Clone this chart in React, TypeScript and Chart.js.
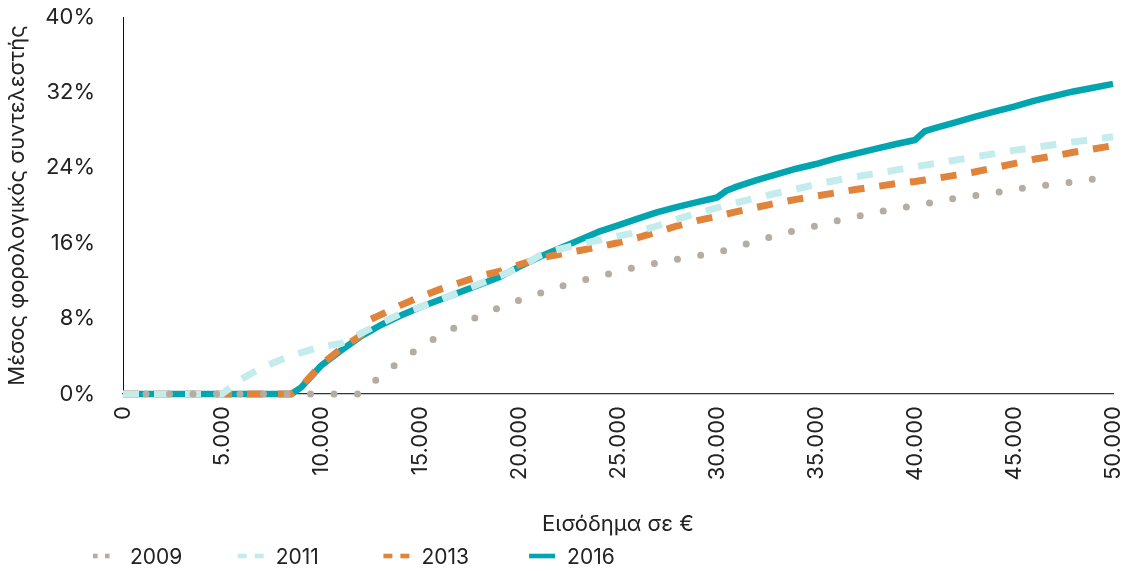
import { useEffect, useRef } from "react";
import { Chart, registerables } from "chart.js";

Chart.register(...registerables);

// Income levels (€) at which the average tax rate is read
const incomes = [
  0, 1000, 2000, 3000, 4000, 5000, 6000, 7000, 8000, 8500, 9000, 10000, 11000, 12000, 12500,
  13000, 14000, 15000, 16000, 17000, 18000, 19000, 20000, 21000, 22000, 23000, 24000, 25000,
  26000, 27000, 28000, 29000, 30000, 30500, 31000, 32000, 33000, 34000, 35000, 36000, 37000,
  38000, 39000, 40000, 40500, 41000, 42000, 43000, 44000, 45000, 46000, 47000, 48000, 49000, 50000,
];

// Average tax rate (%) per year
const rate2009 = [
  0, 0, 0, 0, 0, 0, 0, 0, 0, 0, 0, 0, 0, 0, 0.95,
  1.9, 3.5, 4.95, 6.2, 7.3, 8.3, 9.15, 9.95, 10.65, 11.35, 11.95, 12.45, 13.0,
  13.5, 13.9, 14.3, 14.65, 15.0, 15.3, 15.6, 16.25, 16.85, 17.35, 17.85, 18.35, 18.8,
  19.25, 19.65, 20.0, 20.18, 20.35, 20.75, 21.05, 21.35, 21.7, 22.0, 22.25, 22.5, 22.8, 23.05,
];
const rate2011 = [
  0, 0, 0, 0, 0, 0, 1.6, 2.8, 3.65, 4.05, 4.4, 5.0, 5.35, 6.4, 6.95,
  7.5, 8.5, 9.2, 10.0, 10.85, 11.7, 12.5, 13.35, 14.65, 15.35, 15.85, 16.3, 16.75,
  17.2, 17.85, 18.55, 19.2, 19.75, 20.03, 20.3, 20.8, 21.3, 21.75, 22.25, 22.65, 23.05,
  23.4, 23.75, 24.1, 24.28, 24.45, 24.8, 25.15, 25.5, 25.85, 26.15, 26.45, 26.75, 27.0, 27.3,
];
const rate2013 = [
  0, 0, 0, 0, 0, 0, 0, 0, 0, 0, 0.8, 3.1, 4.8, 6.2, 7.9,
  8.4, 9.4, 10.3, 11.1, 11.8, 12.5, 13.0, 13.7, 14.4, 14.8, 15.2, 15.6, 16.05,
  16.6, 17.2, 17.85, 18.4, 18.85, 19.1, 19.35, 19.8, 20.25, 20.65, 21.0, 21.35, 21.7,
  22.0, 22.3, 22.55, 22.7, 22.85, 23.2, 23.55, 24.0, 24.45, 24.9, 25.25, 25.65, 26.0, 26.35,
];
const rate2016 = [
  0, 0, 0, 0, 0, 0, 0, 0, 0, 0, 0.7, 3.0, 4.6, 6.1, 6.7,
  7.3, 8.3, 9.2, 10.0, 10.8, 11.6, 12.4, 13.5, 14.5, 15.4, 16.3, 17.2, 17.9,
  18.6, 19.3, 19.85, 20.35, 20.85, 21.6, 22.0, 22.7, 23.3, 23.9, 24.4, 25.0, 25.5,
  26.0, 26.5, 26.95, 27.9, 28.2, 28.8, 29.4, 29.95, 30.5, 31.1, 31.6, 32.1, 32.5, 32.9,
];

const seriesLabels = ["2009", "2011", "2013", "2016"];
const seriesValues = [rate2009, rate2011, rate2013, rate2016];
const yTickValues = [0, 8, 16, 24, 32, 40];

const yTitle = "Μέσος φορολογικός συντελεστής";
const xTitle = "Εισόδημα σε €";

const COLORS = ["#B5ADA2", "#C4ECEC", "#E0843C", "#00A5AF"];
const FONT = "Inter, 'Noto Sans', sans-serif";
const TEXT = "#222222";

const fmtThousands = (v: number) => String(v).replace(/\B(?=(\d{3})+(?!\d))/g, ".");

const legendPlugin = {
  id: "customLegend",
  afterDraw(chart: any) {
    const ctx = chart.ctx as CanvasRenderingContext2D;
    const startX = 92;
    const step = 145.7;
    const cy = 556;
    const h = 4.6;
    ctx.save();
    seriesLabels.forEach((label, i) => {
      const x0 = startX + i * step;
      ctx.fillStyle = COLORS[i];
      if (i === 0) {
        ctx.fillRect(x0 + 1, cy - h / 2, 4.6, h);
        ctx.fillRect(x0 + 13, cy - h / 2, 4.6, h);
      } else if (i === 1 || i === 2) {
        ctx.fillRect(x0, cy - h / 2, 9, h);
        ctx.fillRect(x0 + 17, cy - h / 2, 9, h);
      } else {
        ctx.fillRect(x0, cy - h / 2, 26, h);
      }
      ctx.fillStyle = TEXT;
      ctx.font = `21px ${FONT}`;
      ctx.textBaseline = "alphabetic";
      ctx.textAlign = "left";
      ctx.fillText(label, x0 + 38, 564);
    });
    ctx.restore();
  },
};

export default function App() {
  const canvasRef = useRef<HTMLCanvasElement>(null);

  useEffect(() => {
    if (!canvasRef.current) return;
    const datasets = seriesValues.map((vals, i) => ({
      label: seriesLabels[i],
      data: incomes.map((x, j) => ({ x, y: vals[j] })),
      borderColor: COLORS[i],
      backgroundColor: COLORS[i],
      borderWidth: i === 3 ? 6.5 : 7,
      borderDash: i === 0 ? [0, 23.5] : i === 3 ? [] : [16, 15],
      borderDashOffset: i === 0 ? 0.5 : 0,
      borderCapStyle: i === 0 ? "round" : "butt",
      borderJoinStyle: "round",
      pointRadius: 0,
      pointHoverRadius: 0,
      tension: 0,
      fill: false,
      clip: false,
    }));

    const chart = new Chart(canvasRef.current, {
      type: "line",
      data: { datasets } as any,
      options: {
        animation: false,
        responsive: true,
        maintainAspectRatio: false,
        layout: { padding: { left: 0, right: 14, top: 17, bottom: 33 } },
        plugins: {
          legend: { display: false },
          tooltip: { enabled: false },
        },
        scales: {
          x: {
            type: "linear",
            min: 0,
            max: 50000,
            grid: { display: false, drawTicks: false },
            border: { display: true, color: "#333", width: 1.2 },
            ticks: {
              stepSize: 5000,
              minRotation: 90,
              maxRotation: 90,
              padding: 12,
              color: TEXT,
              font: { family: FONT, size: 22 },
              callback: (v: any) => fmtThousands(Number(v)),
            },
            title: {
              display: true,
              text: xTitle,
              color: TEXT,
              font: { family: FONT, size: 22 },
              padding: { top: 0, bottom: 0 },
            },
            afterFit: (s: any) => {
              s.height = 144;
              s.paddingLeft = 0;
              s.paddingRight = 0;
              s.paddingTop = 0;
              s.paddingBottom = 0;
            },
          },
          y: {
            type: "linear",
            min: 0,
            max: 40,
            grid: { display: false, drawTicks: false },
            border: { display: true, color: "#111", width: 1 },
            afterBuildTicks: (s: any) => {
              s.ticks = yTickValues.map((value) => ({ value }));
            },
            ticks: {
              padding: 28,
              color: TEXT,
              font: { family: FONT, size: 22 },
              callback: (v: any) => `${v}%`,
            },
            title: {
              display: true,
              text: yTitle,
              color: TEXT,
              font: { family: FONT, size: 22 },
              padding: { top: 4, bottom: 0 },
            },
            afterFit: (s: any) => {
              s.width = 123;
              s.paddingLeft = 0;
              s.paddingRight = 0;
              s.paddingTop = 0;
              s.paddingBottom = 0;
            },
          },
        },
      },
      plugins: [legendPlugin],
    });
    return () => chart.destroy();
  }, []);

  return (
    <div
      style={{
        position: "fixed",
        left: 0,
        top: 0,
        width: 1127,
        height: 571,
        background: "#ffffff",
      }}
    >
      <canvas ref={canvasRef} />
    </div>
  );
}
